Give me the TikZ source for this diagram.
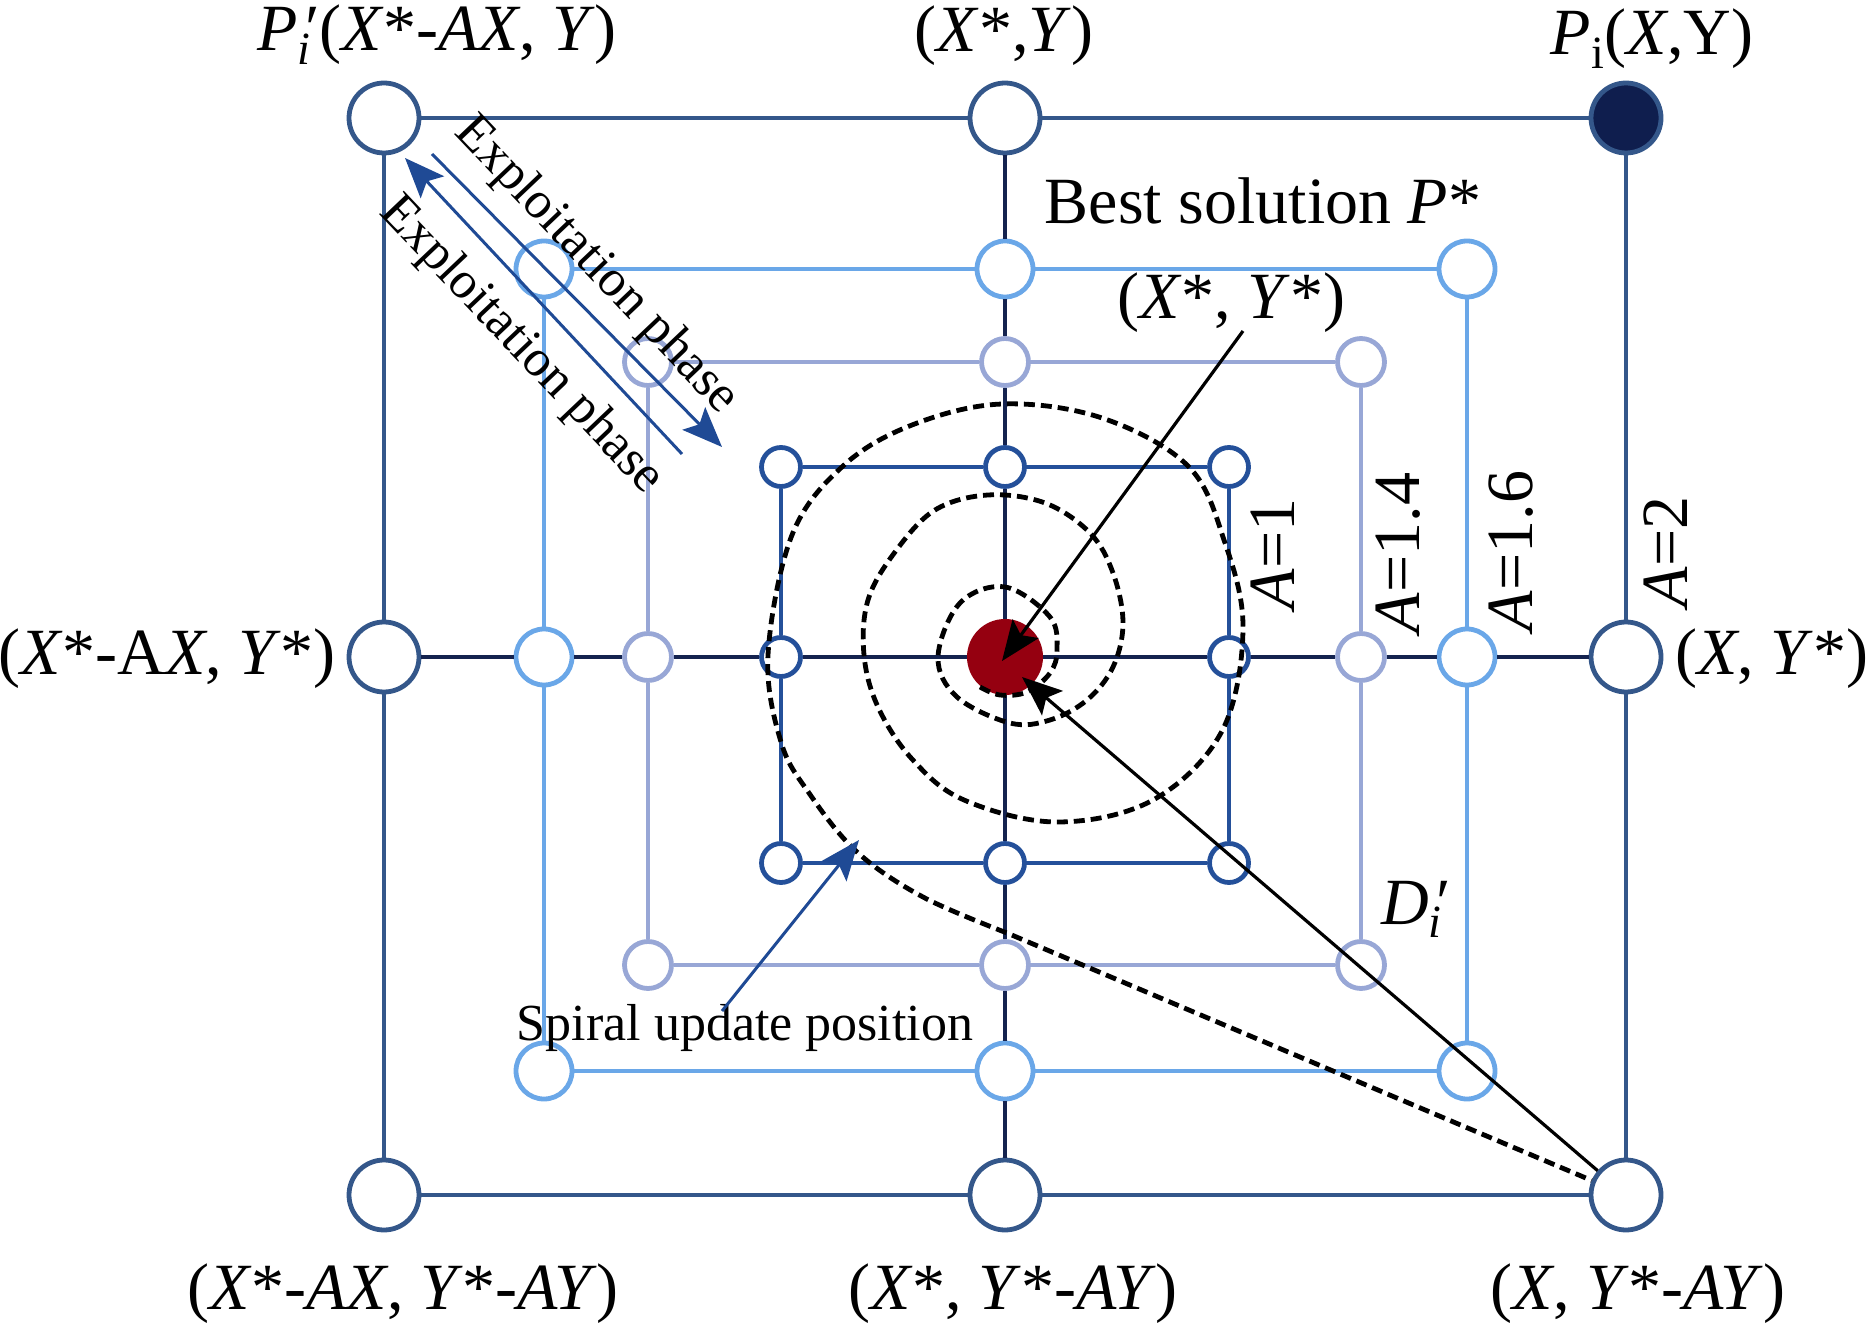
\documentclass[tikz,border=0pt]{standalone}
\usepackage{fontspec}
\setmainfont{Liberation Serif}
\usetikzlibrary{arrows.meta}
\definecolor{cOut}{HTML}{34578A}
\definecolor{cCross}{HTML}{14234F}
\definecolor{cLB}{HTML}{6AA7E8}
\definecolor{cLav}{HTML}{98A7D6}
\definecolor{cAone}{HTML}{24509A}
\definecolor{cNavy}{HTML}{0F1E4E}
\definecolor{cRed}{HTML}{950010}
\definecolor{cArr}{HTML}{1F4A95}
\newcommand{\pisub}[2]{\textit{#1}\rlap{\kern0.06em\textit{′}}\textsubscript{\textit{#2}}\kern0.12em}
\begin{document}
\begin{tikzpicture}[x=0.5pt,y=-0.5pt,
  ptnode/.style={circle,fill=white,line width=2.4pt,inner sep=0pt},
  ntwo/.style={ptnode,draw=cOut,minimum size=35pt},
  nsix/.style={ptnode,draw=cLB,minimum size=28pt},
  nfour/.style={ptnode,draw=cLav,minimum size=23.5pt},
  nonea/.style={ptnode,draw=cAone,minimum size=19.5pt},
  lblbig/.style={font=\fontsize{33}{38}\selectfont,inner sep=0pt},
  lblsmall/.style={font=\fontsize{26}{30}\selectfont,inner sep=0pt},
  arrowhd/.style={-{Stealth[length=20pt,width=16pt,inset=4pt]}},
  gridline/.style={line width=2.3pt},
  spiralline/.style={line width=2.4pt,dash pattern=on 5.5pt off 3pt},
]
\useasboundingbox (0,0) rectangle (1867,1325);

% A = 2
\node[ntwo] (a2tl) at (384,118) {};
\node[ntwo] (a2tm) at (1005,118) {};
\node[ntwo,fill=cNavy] (a2tr) at (1626,118) {};
\node[ntwo] (a2ml) at (384,657) {};
\node[ntwo] (a2mr) at (1626,657) {};
\node[ntwo] (a2bl) at (384,1195) {};
\node[ntwo] (a2bm) at (1005,1195) {};
\node[ntwo] (a2br) at (1626,1195) {};
% A = 1.6
\node[nsix] (a6tl) at (544,269) {};
\node[nsix] (a6tm) at (1005,269) {};
\node[nsix] (a6tr) at (1467,269) {};
\node[nsix] (a6ml) at (544,657) {};
\node[nsix] (a6mr) at (1467,657) {};
\node[nsix] (a6bl) at (544,1071) {};
\node[nsix] (a6bm) at (1005,1071) {};
\node[nsix] (a6br) at (1467,1071) {};
% A = 1.4
\node[nfour] (a4tl) at (648,362) {};
\node[nfour] (a4tm) at (1005,362) {};
\node[nfour] (a4tr) at (1361,362) {};
\node[nfour] (a4ml) at (648,657) {};
\node[nfour] (a4mr) at (1361,657) {};
\node[nfour] (a4bl) at (648,965) {};
\node[nfour] (a4bm) at (1005,965) {};
\node[nfour] (a4br) at (1361,965) {};
% A = 1
\node[nonea] (a1tl) at (781,467) {};
\node[nonea] (a1tm) at (1005,467) {};
\node[nonea] (a1tr) at (1229,467) {};
\node[nonea] (a1ml) at (781,657) {};
\node[nonea] (a1mr) at (1229,657) {};
\node[nonea] (a1bl) at (781,863) {};
\node[nonea] (a1bm) at (1005,863) {};
\node[nonea] (a1br) at (1229,863) {};
% best solution
\node[circle,fill=cRed,minimum size=38pt,inner sep=0pt] (c) at (1005,657) {};

% squares
\draw[gridline,cOut] (a2tl) -- (a2tm) -- (a2tr) -- (a2mr) -- (a2br) -- (a2bm) -- (a2bl) -- (a2ml) -- (a2tl);
\draw[gridline,cLB] (a6tl) -- (a6tm) -- (a6tr) -- (a6mr) -- (a6br) -- (a6bm) -- (a6bl) -- (a6ml) -- (a6tl);
\draw[gridline,cLav] (a4tl) -- (a4tm) -- (a4tr) -- (a4mr) -- (a4br) -- (a4bm) -- (a4bl) -- (a4ml) -- (a4tl);
\draw[gridline,cAone] (a1tl) -- (a1tm) -- (a1tr) -- (a1mr) -- (a1br) -- (a1bm) -- (a1bl) -- (a1ml) -- (a1tl);
% central cross
\draw[gridline,cCross] (a2tm) -- (a6tm) -- (a4tm) -- (a1tm) -- (c) -- (a1bm) -- (a4bm) -- (a6bm) -- (a2bm);
\draw[gridline,cCross] (a2ml) -- (a6ml) -- (a4ml) -- (a1ml) -- (c) -- (a1mr) -- (a4mr) -- (a6mr) -- (a2mr);

% spiral
\draw[spiralline] plot[smooth,tension=0.6] coordinates {
 (980,687) (1000,695) (1027,692) (1050,673) (1057,650) (1050,617) (1005,587)
 (960,603) (938,657) (957,697) (1010,723) (1050,720) (1087,700) (1113,667)
 (1123,623) (1113,573) (1090,533) (1045,503) (988,495) (935,510) (895,552)
 (868,600) (864,655) (878,707) (912,759) (964,800) (1057,822) (1153,800)
 (1222,731) (1243,628) (1224,540) (1188,466) (1102,418) (1002,404) (912,425)
 (843,466) (792,535) (768,655) (781,742) (809,793) (857,852) (923,897) (1007,933)}
 -- (a2br);

% labels
\node[lblbig,anchor=base] (lPp) at (437,51) {\pisub{P}{i}(\textit{X}*-\textit{AX}, \textit{Y})};
\node[lblbig,anchor=base] (lXY) at (1004,52) {(\textit{X}*,\textit{Y})};
\node[lblbig,anchor=base] (lPi) at (1652,55) {\textit{P}\textsubscript{i}(\textit{X},Y)};
\node[lblbig,anchor=base] (lBest) at (1263,224) {Best solution \textit{P}*};
\node[lblbig,anchor=base] (lStar) at (1231,319) {(\textit{X}*, \textit{Y}*)};
\node[lblbig,anchor=base] (lL) at (167,675) {(\textit{X}*-A\textit{X}, \textit{Y}*)};
\node[lblbig,anchor=base] (lR) at (1772,675) {(\textit{X}, \textit{Y}*)};
\node[lblbig,anchor=base] (lBL) at (403,1309) {(\textit{X}*-\textit{AX}, \textit{Y}*-\textit{AY})};
\node[lblbig,anchor=base] (lBM) at (1013,1309) {(\textit{X}*, \textit{Y}*-\textit{AY})};
\node[lblbig,anchor=base] (lBR) at (1638,1309) {(\textit{X}, \textit{Y}*-\textit{AY})};
\node[lblbig,anchor=base] (lD) at (1416,924) {\pisub{D}{i}};
\node[lblbig,rotate=90] (lA1) at (1273,554) {\textit{A}=1};
\node[lblbig,rotate=90] (lA14) at (1398,553) {\textit{A}=1.4};
\node[lblbig,rotate=90] (lA16) at (1511,551) {\textit{A}=1.6};
\node[lblbig,rotate=90] (lA2) at (1666,552) {\textit{A}=2};
\node[lblsmall,rotate=-46.5] (lEx1) at (596,266) {Exploitation phase};
\node[lblsmall,rotate=-46.5] (lEx2) at (521,346) {Exploitation phase};
\node[lblsmall,anchor=base] (lSp) at (745,1040) {Spiral update position};

% arrows
\coordinate (s1) at (1243,331);
\coordinate (t1) at (1002,661);
\coordinate (t2) at (1022,677);
\coordinate (e1s) at (432,154);
\coordinate (e1t) at (722,447);
\coordinate (e2s) at (682,454);
\coordinate (e2t) at (405,158);
\coordinate (sps) at (722,1011);
\coordinate (spt) at (859,840);
\draw[line width=1.6pt,arrowhd] (s1) -- (t1);
\draw[line width=1.6pt,arrowhd] (a2br) -- (t2);
\draw[line width=1.5pt,cArr,arrowhd] (e1s) -- (e1t);
\draw[line width=1.5pt,cArr,arrowhd] (e2s) -- (e2t);
\draw[line width=1.5pt,cArr,arrowhd] (sps) -- (spt);
\end{tikzpicture}
\end{document}
